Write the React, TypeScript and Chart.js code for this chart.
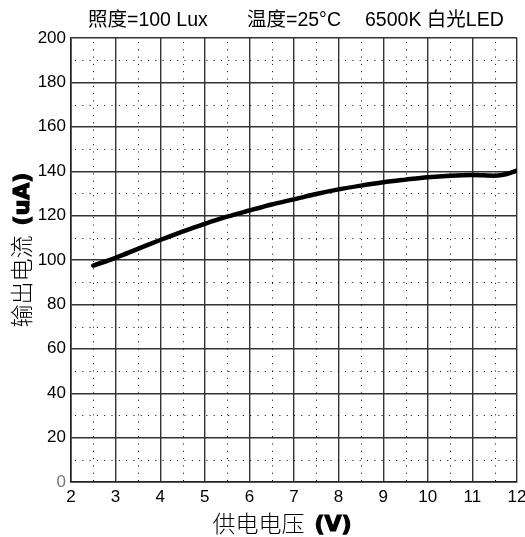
import React, { useEffect, useRef } from "react";
import { Chart, registerables } from "chart.js";

Chart.register(...registerables);

const voltages = [2.5, 3, 3.5, 4, 4.5, 5, 5.5, 6, 6.5, 7, 7.5, 8, 8.5, 9, 9.5, 10, 10.5, 11, 11.5, 11.75, 12];
const currents = [97.5, 101, 105, 109, 112.8, 116.3, 119.5, 122.3, 125, 127.3, 129.7, 131.8, 133.5, 135, 136.2, 137.3, 138, 138.3, 138, 138.6, 140.3];

const xTicks = [2, 3, 4, 5, 6, 7, 8, 9, 10, 11, 12];
const yTicks = [0, 20, 40, 60, 80, 100, 120, 140, 160, 180, 200];

const titleParts = ["照度=100 Lux", "温度=25°C", "6500K 白光LED"];
const yTitleCn = "输出电流";
const yTitleUnit = "(uA)";
const xTitleCn = "供电电压";
const xTitleUnit = "(V)";

const CJK = "'Noto Sans CJK SC', 'Liberation Sans', sans-serif";
const MIXED = "'Liberation Sans', 'Noto Sans CJK SC', sans-serif";
const SANS = "'Liberation Sans', Arial, sans-serif";
const BOLD = "'DejaVu Sans', 'Liberation Sans', sans-serif";

const mids = (arr: number[]) => arr.slice(0, -1).map((v, i) => (v + arr[i + 1]) / 2);

const minorGridPlugin = {
  id: "minorGrid",
  beforeDatasetsDraw(chart: any) {
    const { ctx, chartArea, scales } = chart;
    ctx.save();
    ctx.strokeStyle = "#000";
    ctx.lineWidth = 1;
    ctx.setLineDash([1, 6.3]);
    for (const v of mids(xTicks)) {
      const px = Math.round(scales.x.getPixelForValue(v)) + 0.5;
      ctx.beginPath();
      ctx.moveTo(px, chartArea.top + 4);
      ctx.lineTo(px, chartArea.bottom);
      ctx.stroke();
    }
    for (const v of mids(yTicks)) {
      const py = Math.round(scales.y.getPixelForValue(v)) + 0.5;
      ctx.beginPath();
      ctx.moveTo(chartArea.left + 4, py);
      ctx.lineTo(chartArea.right, py);
      ctx.stroke();
    }
    ctx.restore();
  },
};

const drawHeavy = (ctx: any, text: string, x: number, y: number) => {
  ctx.fillText(text, x, y);
  ctx.lineWidth = 1.2;
  ctx.strokeStyle = "#000";
  ctx.strokeText(text, x, y);
};

const textPlugin = {
  id: "texts",
  afterDraw(chart: any) {
    const { ctx, chartArea } = chart;
    ctx.save();
    ctx.fillStyle = "#000";
    ctx.textBaseline = "middle";
    ctx.textAlign = "left";
    // title line
    ctx.font = `19.5px ${MIXED}`;
    const titleX = [88, 247, 365];
    titleParts.forEach((t, i) => {
      ctx.fillText(t, titleX[i], 21);
    });

    // x axis title
    const cnFont = `300 23px ${CJK}`;
    const unitFont = `bold 22px ${BOLD}`;
    const gap = 10;
    ctx.font = cnFont;
    const xw1 = ctx.measureText(xTitleCn).width;
    ctx.font = unitFont;
    const xw2 = ctx.measureText(xTitleUnit).width;
    const xc = (chartArea.left + chartArea.right) / 2 - 12;
    const xs = xc - (xw1 + gap + xw2) / 2;
    ctx.font = cnFont;
    ctx.fillText(xTitleCn, xs, 523);
    ctx.font = unitFont;
    drawHeavy(ctx, xTitleUnit, xs + xw1 + gap, 525);

    // y axis title
    ctx.font = cnFont;
    const yw1 = ctx.measureText(yTitleCn).width;
    ctx.font = unitFont;
    const yw2 = ctx.measureText(yTitleUnit).width;
    const yc = (chartArea.top + chartArea.bottom) / 2 - 10;
    ctx.translate(21, yc);
    ctx.rotate(-Math.PI / 2);
    const ys = -(yw1 + gap + yw2) / 2;
    ctx.font = cnFont;
    ctx.fillText(yTitleCn, ys, 0);
    ctx.font = unitFont;
    drawHeavy(ctx, yTitleUnit, ys + yw1 + gap, 2);
    ctx.restore();
  },
};

export default function App() {
  const ref = useRef<HTMLCanvasElement | null>(null);
  useEffect(() => {
    if (!ref.current) return;
    const chart = new Chart(ref.current, {
      type: "line",
      data: {
        datasets: [
          {
            data: voltages.map((v, i) => ({ x: v, y: currents[i] })),
            borderColor: "#000",
            borderWidth: 4.5,
            borderCapStyle: "round",
            pointRadius: 0,
            cubicInterpolationMode: "monotone",
            fill: false,
          },
        ],
      },
      options: {
        responsive: true,
        maintainAspectRatio: false,
        animation: false,
        events: [],
        layout: { padding: { top: 38, right: 8, left: 0, bottom: 0 } },
        plugins: {
          legend: { display: false },
          title: { display: false },
          tooltip: { enabled: false },
        },
        scales: {
          x: {
            type: "linear",
            min: 2,
            max: 12,
            afterBuildTicks: (s: any) => {
              s.ticks = xTicks.map((v) => ({ value: v }));
            },
            afterFit: (s: any) => {
              s.height = 55;
              s.paddingLeft = 0;
              s.paddingRight = 0;
            },
            ticks: {
              color: "#000",
              font: { family: SANS, size: 17 },
              padding: 5,
              maxRotation: 0,
              autoSkip: false,
            },
            grid: { color: "#333", lineWidth: 1.4, drawTicks: false },
            border: { display: true, color: "#222", width: 1.6 },
          },
          y: {
            type: "linear",
            min: 0,
            max: 200,
            afterBuildTicks: (s: any) => {
              s.ticks = yTicks.map((v) => ({ value: v }));
            },
            afterFit: (s: any) => {
              s.width = 71;
              s.paddingTop = 0;
              s.paddingBottom = 0;
            },
            ticks: {
              color: (c: any) => (c.tick && c.tick.value === 0 ? "#777" : "#000"),
              font: { family: SANS, size: 17 },
              padding: 5,
              autoSkip: false,
            },
            grid: { color: "#333", lineWidth: 1.4, drawTicks: false },
            border: { display: true, color: "#222", width: 1.6 },
          },
        },
      },
      plugins: [minorGridPlugin, textPlugin],
    } as any);
    return () => chart.destroy();
  }, []);
  return (
    <div style={{ position: "absolute", left: 0, top: 0, width: 525, height: 537, background: "#fff" }}>
      <canvas ref={ref} />
    </div>
  );
}
